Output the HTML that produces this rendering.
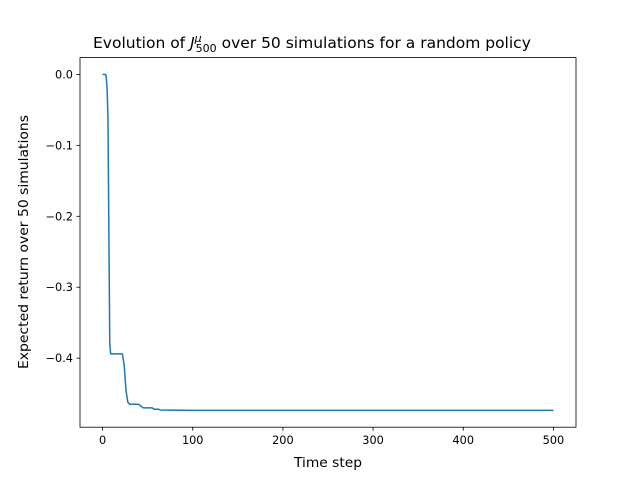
<!DOCTYPE html>
<html><head><meta charset="utf-8"><style>
body{margin:0;background:#fff;}
svg{display:block;font-family:"DejaVu Sans","Liberation Sans",sans-serif;}
</style></head><body>
<svg id="chart" width="640" height="480">
<rect width="640" height="480" fill="#fff"/>
<g id="plot"></g>
<text x="93" y="48" font-size="15.5">Evolution of <tspan font-style="italic">J</tspan><tspan font-size="11" font-style="italic" dy="-6">μ</tspan><tspan font-size="11" dx="-6" dy="10">500</tspan><tspan dy="-4"> over 50 simulations for a random policy</tspan></text>
<text x="294" y="467" font-size="13.5" textLength="68" lengthAdjust="spacingAndGlyphs">Time step</text>
<text transform="translate(28,369) rotate(-90)" font-size="13.5" textLength="254" lengthAdjust="spacingAndGlyphs">Expected return over 50 simulations</text>
</svg>
<script>
const steps = [0,3,4,5,6,8,9,20,22,24,26,28,30,38,40,45,55,57,62,64,100,500];
const values = [0,0,-0.002,-0.02,-0.06,-0.38,-0.394,-0.394,-0.394,-0.41,-0.445,-0.462,-0.465,-0.465,-0.465,-0.47,-0.47,-0.472,-0.472,-0.473,-0.4735,-0.4735];
const xTicks = [0,100,200,300,400,500];
const yTicks = [0,-0.1,-0.2,-0.3,-0.4];
const L=80,R=576,T=57.6,B=427.2;
const xMin=-25,xMax=525,yMax=0.0237,yMin=-0.4973;
const xs=v=>L+(v-xMin)/(xMax-xMin)*(R-L);
const ys=v=>T+(yMax-v)/(yMax-yMin)*(B-T);
const NS="http://www.w3.org/2000/svg";
const g=document.getElementById('plot');
function mk(tag,attrs){const e=document.createElementNS(NS,tag);for(const k in attrs)e.setAttribute(k,attrs[k]);g.appendChild(e);return e;}
xTicks.forEach(t=>{
  const l=mk('line',{x1:xs(t),x2:xs(t),y1:B,y2:B+3.5,stroke:'#000','stroke-width':0.8});
  
  
  const tx=mk('text',{x:xs(t),y:B+17,'font-size':11.3,'text-anchor':'middle'});
  tx.textContent=t;
  
  
});
yTicks.forEach(t=>{
  const l=mk('line',{x1:L-3.5,x2:L,y1:ys(t),y2:ys(t),stroke:'#000','stroke-width':0.8});
  
  
  const tx=mk('text',{x:L-7,y:ys(t)+4,'font-size':11.3,'text-anchor':'end'});
  tx.textContent=t.toFixed(1).replace('-','−');
  
  
});
const p=mk('polyline',{points:steps.map((s,i)=>xs(s)+','+ys(values[i])).join(' '),fill:'none',stroke:'#1f77b4','stroke-width':1.5,'stroke-linejoin':'round'});


const f=mk('rect',{x:L,y:T,width:R-L,height:B-T,fill:'none',stroke:'#000','stroke-width':0.8});


</script>
</body></html>
